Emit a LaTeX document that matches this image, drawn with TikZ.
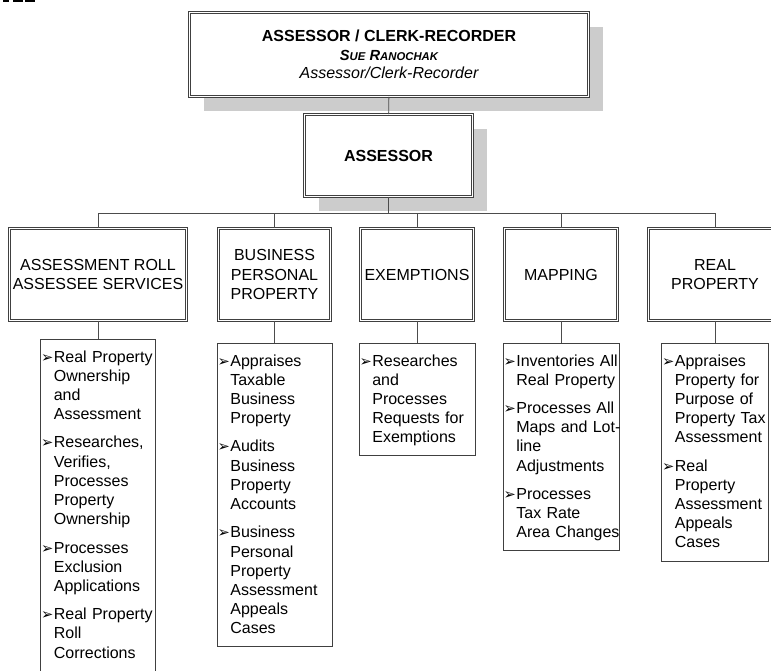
\documentclass[tikz,border=0pt]{standalone}
\usepackage{fontspec}
\setmainfont{Liberation Sans}
\newfontfamily\dingfont{DejaVu Sans}
\usetikzlibrary{shadows}

\newcommand{\bul}{\makebox[9pt][l]{\hspace*{-0.6pt}\dingfont\fontsize{11}{11}\selectfont ➢}}
\newcommand{\duties}[1]{\noindent\begin{tabular}[t]{@{}l@{}l@{}}#1\end{tabular}}

\tikzset{
  box/.style={draw=black!75, line width=0.6pt, double=white, double distance=1.3pt,
    fill=white, inner sep=0pt, align=center, minimum height=69pt,
    font=\fontsize{12}{14.5}\selectfont},
  shd/.style={drop shadow={shadow xshift=11pt, shadow yshift=-10.5pt, fill=black!20, opacity=1}},
  lst/.style={draw=black!75, line width=0.6pt, fill=white, anchor=north, align=left,
    inner xsep=1pt, inner ysep=5.4pt, text height=11.6pt,
    font=\fontsize{12}{14.4}\selectfont},
  link/.style={draw=black!70, line width=0.7pt}
}

\begin{document}
\begin{tikzpicture}[x=0.75pt, y=-0.75pt]
  \useasboundingbox (0,0) rectangle (771,671);
  \clip (0,0) rectangle (771,671);
  % cut-off marks at the top edge
  \fill (2.7,0) rectangle (9.3,2); \fill (12.7,0) rectangle (22.7,2); \fill (25,0) rectangle (35,2);

  % head and assessor
  \node[box, shd, minimum width=299.25pt, minimum height=63pt, font=\fontsize{12}{14}\selectfont] (top) at (389,54.5)
    {\bfseries ASSESSOR / CLERK-RECORDER\\
     \bfseries\itshape\fontsize{11}{14}\selectfont S{\fontsize{8.5}{14}\selectfont UE} R{\fontsize{8.5}{14}\selectfont ANOCHAK}\\
     \mdseries\itshape\fontsize{12}{14}\selectfont Assessor/Clerk-Recorder};
  \node[box, shd, minimum width=126pt, minimum height=61.5pt] (asr) at (388.5,155.5) {\bfseries ASSESSOR};

  % divisions
  \node[box, minimum width=132.75pt] (ars) at (98,274.5) {ASSESSMENT ROLL\\ASSESSEE SERVICES};
  \node[box, minimum width=84pt] (bpp) at (274.5,274.5) {BUSINESS\\PERSONAL\\PROPERTY};
  \node[box, minimum width=84.75pt] (exm) at (417,274.5) {EXEMPTIONS};
  \node[box, minimum width=84.75pt] (map) at (561,274.5) {MAPPING};
  \node[box, minimum width=99.75pt] (rlp) at (715,274.5) {REAL\\PROPERTY};

  % duties
  \node[lst, text width=84.25pt] (l1) at (98,339) {\duties{
    \bul & Real Property\\ & Ownership\\ & and\\ & Assessment\\[6.8pt]
    \bul & Researches,\\ & Verifies,\\ & Processes\\ & Property\\ & Ownership\\[6.8pt]
    \bul & Processes\\ & Exclusion\\ & Applications\\[6.8pt]
    \bul & Real Property\\ & Roll\\ & Corrections\\ & \\ & }};
  \node[lst, text width=84.25pt] (l2) at (274.5,343) {\duties{
    \bul & Appraises\\ & Taxable\\ & Business\\ & Property\\[6.8pt]
    \bul & Audits\\ & Business\\ & Property\\ & Accounts\\[6.8pt]
    \bul & Business\\ & Personal\\ & Property\\ & Assessment\\ & Appeals\\ & Cases}};
  \node[lst, text width=85pt] (l3) at (417,343) {\duties{
    \bul & Researches\\ & and\\ & Processes\\ & Requests for\\ & Exemptions}};
  \node[lst, text width=85pt] (l4) at (561,343) {\duties{
    \bul & Inventories All\\ & Real Property\\[6.8pt]
    \bul & Processes All\\ & Maps and Lot-\\ & line\\ & Adjustments\\[6.8pt]
    \bul & Processes\\ & Tax Rate\\ & Area Changes}};
  \node[lst, text width=78.25pt] (l5) at (715,343) {\duties{
    \bul & Appraises\\ & Property for\\ & Purpose of\\ & Property Tax\\ & Assessment\\[6.8pt]
    \bul & Real\\ & Property\\ & Assessment\\ & Appeals\\ & Cases}};

  % connectors
  \coordinate (bus) at (388.5,213);
  \draw[link] (top) -- (asr);
  \draw[link] (asr) -- (bus);
  \foreach \n in {ars,bpp,exm,map,rlp} \draw[link] (bus) -| (\n);
  \draw[link] (ars) -- (l1);
  \draw[link] (bpp) -- (l2);
  \draw[link] (exm) -- (l3);
  \draw[link] (map) -- (l4);
  \draw[link] (rlp) -- (l5);
\end{tikzpicture}
\end{document}
